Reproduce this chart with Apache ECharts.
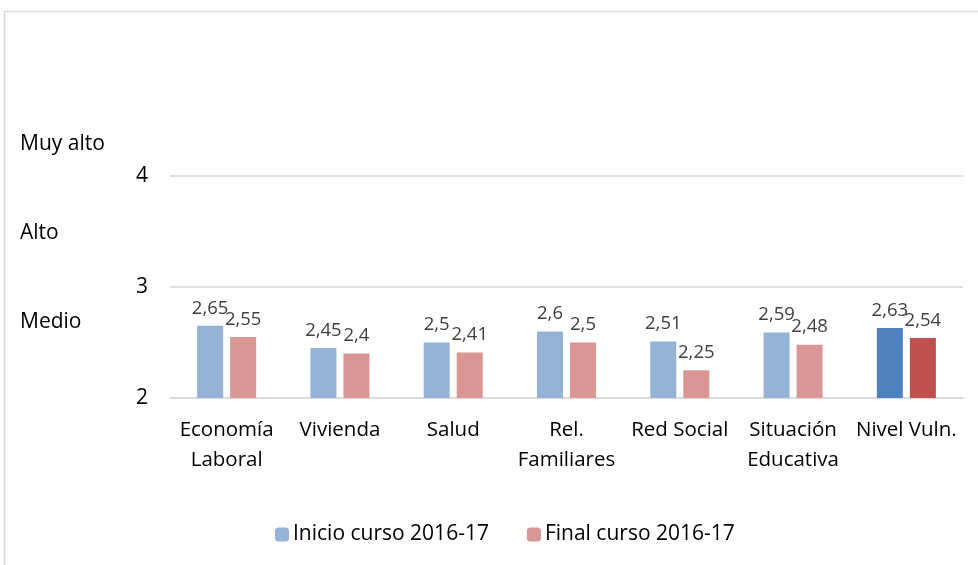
<!DOCTYPE html>
<html>
<head>
<meta charset="utf-8">
<script src="https://cdn.jsdelivr.net/npm/echarts@6/dist/echarts.min.js"></script>
<style>
  html, body { margin: 0; padding: 0; background: #fff; }
  #chart { width: 978px; height: 565px; }
</style>
</head>
<body>
<div id="chart"></div>
<script>
// datos del grafico
var categorias = ["Economía\nLaboral", "Vivienda", "Salud", "Rel.\nFamiliares", "Red Social", "Situación\nEducativa", "Nivel Vuln."];
var inicio = [2.65, 2.45, 2.5, 2.6, 2.51, 2.59, 2.63];
var final = [2.55, 2.4, 2.41, 2.5, 2.25, 2.48, 2.54];
var niveles = ["Muy alto", "Alto", "Medio"];
var nivelValor = [4.3, 3.5, 2.7];

var fuente = "Open Sans";
var myChart = echarts.init(document.getElementById("chart"));

function fmt(v) {
  return String(v).replace(".", ",");
}

// la ultima barra (Nivel Vuln.) va en color fuerte
function serieDatos(arr, fuerte) {
  return arr.map(function (v, i) {
    if (i === arr.length - 1) {
      return { value: v, itemStyle: { color: fuerte } };
    }
    return v;
  });
}

var etiqueta = {
  show: true,
  position: "top",
  color: "#404040",
  fontSize: 18.5,
  distance: 8,
  formatter: function (p) { return fmt(p.value); }
};

var option = {
  animation: false,
  textStyle: { fontFamily: fuente },
  grid: { left: 170, right: 15, top: 176, bottom: 167 },
  legend: {
    bottom: 20,
    left: 275,
    padding: 0,
    itemWidth: 14,
    itemHeight: 14,
    itemGap: 38,
    textStyle: { fontSize: 21, color: "#000", fontFamily: fuente, padding: [0, 0, 0, -1] },
    data: ["Inicio curso 2016-17", "Final curso 2016-17"]
  },
  xAxis: {
    type: "category",
    data: categorias,
    axisLine: { lineStyle: { color: "#d9d9d9", width: 1.5 } },
    axisTick: { show: false },
    axisLabel: { color: "#000", fontSize: 20.5, margin: 17, lineHeight: 30, interval: 0 }
  },
  yAxis: {
    type: "value",
    min: 2,
    max: 4,
    interval: 1,
    axisLine: { show: false },
    axisTick: { show: false },
    splitLine: { lineStyle: { color: "#d9d9d9", width: 1.5 } },
    axisLabel: { color: "#000", fontSize: 21, margin: 22 }
  },
  series: [
    {
      name: "Inicio curso 2016-17",
      type: "bar",
      barWidth: 26,
      barGap: "27%",
      itemStyle: { color: "#95b3d7" },
      label: etiqueta,
      data: serieDatos(inicio, "#4f81bd")
    },
    {
      name: "Final curso 2016-17",
      type: "bar",
      barWidth: 26,
      itemStyle: { color: "#d99694" },
      label: etiqueta,
      data: serieDatos(final, "#c0504d")
    }
  ]
};

myChart.setOption(option);

// borde del area del grafico y etiquetas de nivel a la izquierda
var graficos = [{
  type: "rect",
  shape: { x: 4.5, y: 11.5, width: 1000, height: 600 },
  style: { fill: "none", stroke: "#d9d9d9", lineWidth: 1.5 },
  silent: true
}];
niveles.forEach(function (t, i) {
  var y = myChart.convertToPixel({ yAxisIndex: 0 }, nivelValor[i]);
  graficos.push({
    type: "text",
    left: 20,
    top: y - 9,
    style: { text: t, fontSize: 21, fill: "#000", fontFamily: fuente }
  });
});
myChart.setOption({ graphic: graficos });
</script>
</body>
</html>
